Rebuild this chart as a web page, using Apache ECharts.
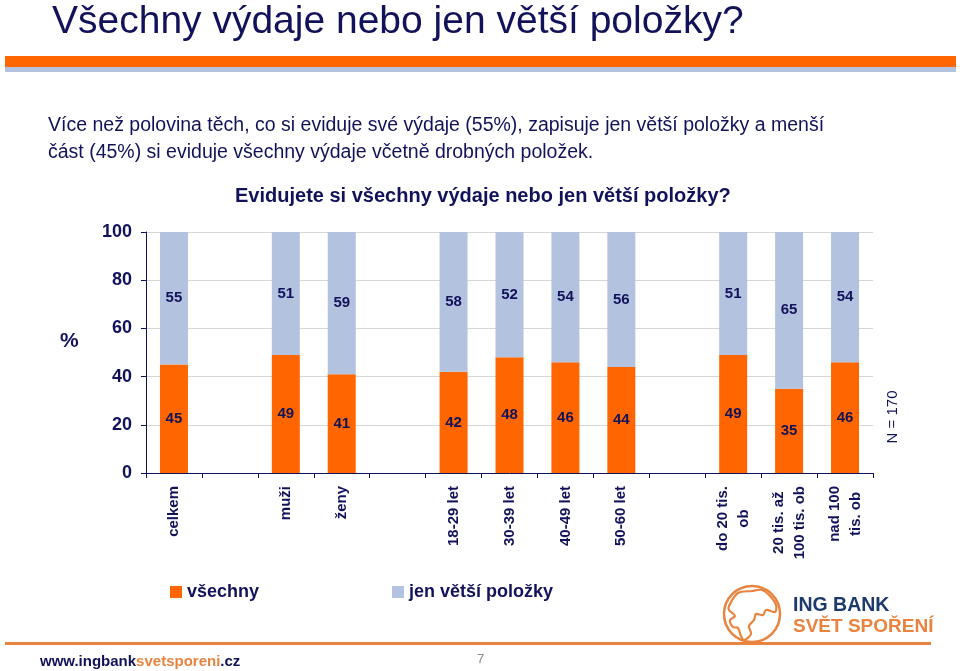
<!DOCTYPE html>
<html>
<head>
<meta charset="utf-8">
<script src="https://cdn.jsdelivr.net/npm/echarts@6/dist/echarts.min.js"></script>
<style>
html,body{margin:0;padding:0;background:#fff;}
#chart{width:960px;height:671px;}
</style>
</head>
<body>
<div id="chart"></div>
<script>
var categories = ['celkem', ' ', 'muži', 'ženy', '  ', '18-29 let', '30-39 let', '40-49 let', '50-60 let', '   ', 'do 20 tis.\nob', '20 tis. až\n100 tis. ob', 'nad 100\ntis. ob'];
var vsechny = [45, null, 49, 41, null, 42, 48, 46, 44, null, 49, 35, 46];
var jenVetsi = [55, null, 51, 59, null, 58, 52, 54, 56, null, 51, 65, 54];
var yTicks = [0, 20, 40, 60, 80, 100];
var seriesNames = ['všechny', 'jen větší položky'];

var NAVY = '#12125a';
var ORANGE = '#ff6600';
var BLUE = '#b3c2df';
var LOGO = '#e8843f';

var chart = echarts.init(document.getElementById('chart'), null, {renderer: 'canvas'});

var valueLabel = {
  show: true,
  position: 'inside',
  color: NAVY,
  fontFamily: 'Liberation Sans, Arial, sans-serif',
  fontWeight: 'bold',
  fontSize: 15,
  formatter: function (p) { return p.value == null ? '' : String(p.value); }
};

var option = {
  backgroundColor: '#ffffff',
  animation: false,
  title: {
    text: 'Evidujete si všechny výdaje nebo jen větší položky?',
    left: 230,
    top: 181,
    textStyle: {
      color: NAVY,
      fontFamily: 'Liberation Sans, Arial, sans-serif',
      fontWeight: 'bold',
      fontSize: 20
    }
  },
  legend: {
    left: 165,
    top: 578,
    icon: 'rect',
    itemWidth: 12,
    itemHeight: 12,
    itemGap: 133,
    data: seriesNames,
    textStyle: {
      color: NAVY,
      fontFamily: 'Liberation Sans, Arial, sans-serif',
      fontWeight: 'bold',
      fontSize: 18
    }
  },
  grid: {
    left: 146,
    right: 87,
    top: 232,
    bottom: 198,
    containLabel: false
  },
  xAxis: {
    type: 'category',
    data: categories,
    boundaryGap: true,
    axisLine: {show: true, lineStyle: {color: NAVY, width: 1}},
    axisTick: {show: true, length: 5, alignWithLabel: false, lineStyle: {color: NAVY}},
    splitLine: {show: false},
    axisLabel: {
      interval: 0,
      rotate: 90,
      margin: 13,
      formatter: function (v) {
        if (!v.trim()) return '';
        return v.split('\n').map(function (s) { return '{c|' + s + '}'; }).join('\n');
      },
      rich: {
        c: {
          align: 'center',
          color: NAVY,
          fontFamily: 'Liberation Sans, Arial, sans-serif',
          fontWeight: 'bold',
          fontSize: 15,
          lineHeight: 21
        }
      }
    }
  },
  yAxis: {
    type: 'value',
    min: yTicks[0],
    max: yTicks[yTicks.length - 1],
    interval: yTicks[1] - yTicks[0],
    axisLine: {show: true, lineStyle: {color: NAVY, width: 1}},
    axisTick: {show: true, length: 5, lineStyle: {color: NAVY}},
    splitLine: {show: true, lineStyle: {color: '#d6d6d6', width: 1}},
    axisLabel: {
      margin: 14,
      color: NAVY,
      fontFamily: 'Liberation Sans, Arial, sans-serif',
      fontWeight: 'bold',
      fontSize: 18
    }
  },
  series: [
    {
      name: seriesNames[0],
      type: 'bar',
      stack: 'total',
      barWidth: 28,
      data: vsechny,
      itemStyle: {color: ORANGE},
      label: valueLabel
    },
    {
      name: seriesNames[1],
      type: 'bar',
      stack: 'total',
      barWidth: 28,
      data: jenVetsi,
      itemStyle: {color: BLUE},
      label: valueLabel
    }
  ],
  graphic: [
    {type: 'rect', shape: {x: 5, y: 56, width: 951, height: 11}, style: {fill: ORANGE}},
    {type: 'rect', shape: {x: 5, y: 67, width: 951, height: 5}, style: {fill: BLUE}},
    {type: 'text', x: 52, y: 3, style: {
      text: 'Všechny výdaje nebo jen větší položky?',
      fill: NAVY, font: 'normal 39px "Liberation Sans", Arial, sans-serif'}},
    {type: 'text', x: 48, y: 112, style: {
      text: 'Více než polovina těch, co si eviduje své výdaje (55%), zapisuje jen větší položky a menší\nčást (45%) si eviduje všechny výdaje včetně drobných položek.',
      fill: NAVY, lineHeight: 27, font: 'normal 19.5px "Liberation Sans", Arial, sans-serif'}},
    {type: 'text', x: 60, y: 331, style: {
      text: '%', fill: NAVY, font: 'bold 21px "Liberation Sans", Arial, sans-serif'}},
    {type: 'text', x: 893, y: 417, rotation: Math.PI / 2, style: {
      text: 'N = 170', fill: NAVY, align: 'center', verticalAlign: 'middle',
      font: 'normal 15px "Liberation Sans", Arial, sans-serif'}},
    {type: 'rect', shape: {x: 5, y: 642, width: 926, height: 3}, style: {fill: LOGO}},
    {type: 'circle', shape: {cx: 752, cy: 614, r: 28}, style: {fill: 'none', stroke: LOGO, lineWidth: 2.5}},
    {type: 'polygon', shape: {smooth: 0.35, points: [[729,606],[738,593],[752,591],[762,590],[770,596],[776,605],[775,612],[766,610],[763,615],[756,614],[754,620],[749,626],[751,634],[744,640],[741,636],[738,628],[733,627],[730,620],[735,616],[729,610]]},
      style: {fill: 'none', stroke: LOGO, lineWidth: 2.2}},
    {type: 'text', x: 793, y: 596, style: {
      text: 'ING BANK', fill: '#1d3a6d', font: 'bold 19.5px "Liberation Sans", Arial, sans-serif'}},
    {type: 'text', x: 793, y: 617, style: {
      text: 'SVĚT SPOŘENÍ', fill: LOGO, font: 'bold 19px "Liberation Sans", Arial, sans-serif'}},
    {type: 'text', x: 40, y: 654, style: {
      text: '{a|www.ingbank}{b|svetsporeni}{a|.cz}',
      rich: {
        a: {fill: NAVY, font: 'bold 15px "Liberation Sans", Arial, sans-serif'},
        b: {fill: LOGO, font: 'bold 15px "Liberation Sans", Arial, sans-serif'}
      }}},
    {type: 'text', x: 477, y: 653, style: {
      text: '7', fill: '#8a8a8a', font: 'normal 13px "Liberation Sans", Arial, sans-serif'}}
  ]
};

chart.setOption(option);
</script>
</body>
</html>
